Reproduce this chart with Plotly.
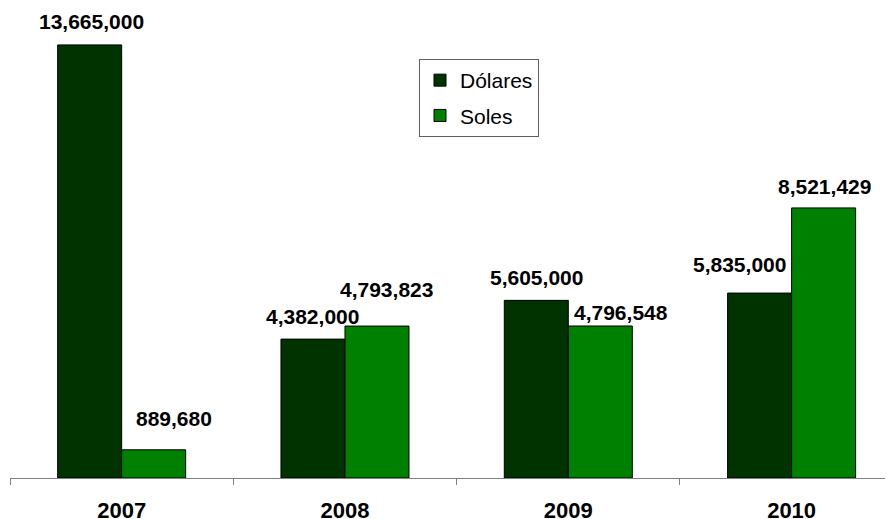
import plotly.graph_objects as go

# Data
years = ["2007", "2008", "2009", "2010"]
dolares = [13665000, 4382000, 5605000, 5835000]
soles = [889680, 4793823, 4796548, 8521429]

# label offsets (pixels) relative to the top centre of each bar
dol_label_dx = [2, 0, 0, -20]
dol_label_dy = [23, 23, 23, 29]
sol_label_dx = [20, 10, 21, 1]
sol_label_dy = [31, 37, 13, 21]

DARK = "#003300"
GREEN = "#008000"
FONT = "Liberation Sans, Arial, sans-serif"
LABEL_FONT = dict(family=FONT, size=21, color="black")

fig = go.Figure()
fig.add_trace(go.Bar(x=years, y=dolares, name="Dólares", legendgroup="d",
                     marker=dict(color=DARK, line=dict(color="black", width=1))))
fig.add_trace(go.Bar(x=years, y=soles, name="Soles", legendgroup="s",
                     marker=dict(color=GREEN, line=dict(color="black", width=1))))

half = 32  # half the bar width in px, to put labels over each bar
for i in range(len(years)):
    # x given as category index (year strings would be read as numbers)
    fig.add_annotation(x=i, y=dolares[i], text="<b>{:,}</b>".format(dolares[i]),
                       showarrow=False, yanchor="middle", xanchor="center",
                       xshift=-half + dol_label_dx[i], yshift=dol_label_dy[i],
                       font=LABEL_FONT)
    fig.add_annotation(x=i, y=soles[i], text="<b>{:,}</b>".format(soles[i]),
                       showarrow=False, yanchor="middle", xanchor="center",
                       xshift=half + sol_label_dx[i], yshift=sol_label_dy[i],
                       font=LABEL_FONT)

# the page body has an 8px margin, so the figure is drawn 8px smaller
fig.update_layout(
    width=885, height=511,
    margin=dict(l=2, r=0, t=0, b=41),
    paper_bgcolor="white", plot_bgcolor="white",
    barmode="group", bargap=0.4268, bargroupgap=0,
    font=dict(family=FONT, color="black"),
    showlegend=True,
    legend=dict(x=(411 - 2) / 883, y=(470 - 51) / 470, xanchor="left", yanchor="top",
                bordercolor="#606060", borderwidth=1, bgcolor="white",
                font=dict(size=21), traceorder="grouped", tracegroupgap=5),
    xaxis=dict(type="category", range=[-0.5, 3.454], showline=True, linecolor="#808080",
               linewidth=1, ticks="outside", tickson="boundaries", ticklen=6,
               tickcolor="#808080", tickfont=dict(size=22, family=FONT),
               tickprefix="<b>", ticksuffix="</b>", ticklabelstandoff=13,
               showgrid=False, zeroline=False, automargin=False),
    yaxis=dict(range=[0, 14.83e6], showticklabels=False, ticks="", showline=False,
               showgrid=False, zeroline=False, automargin=False),
)

fig.write_html("out.html")
